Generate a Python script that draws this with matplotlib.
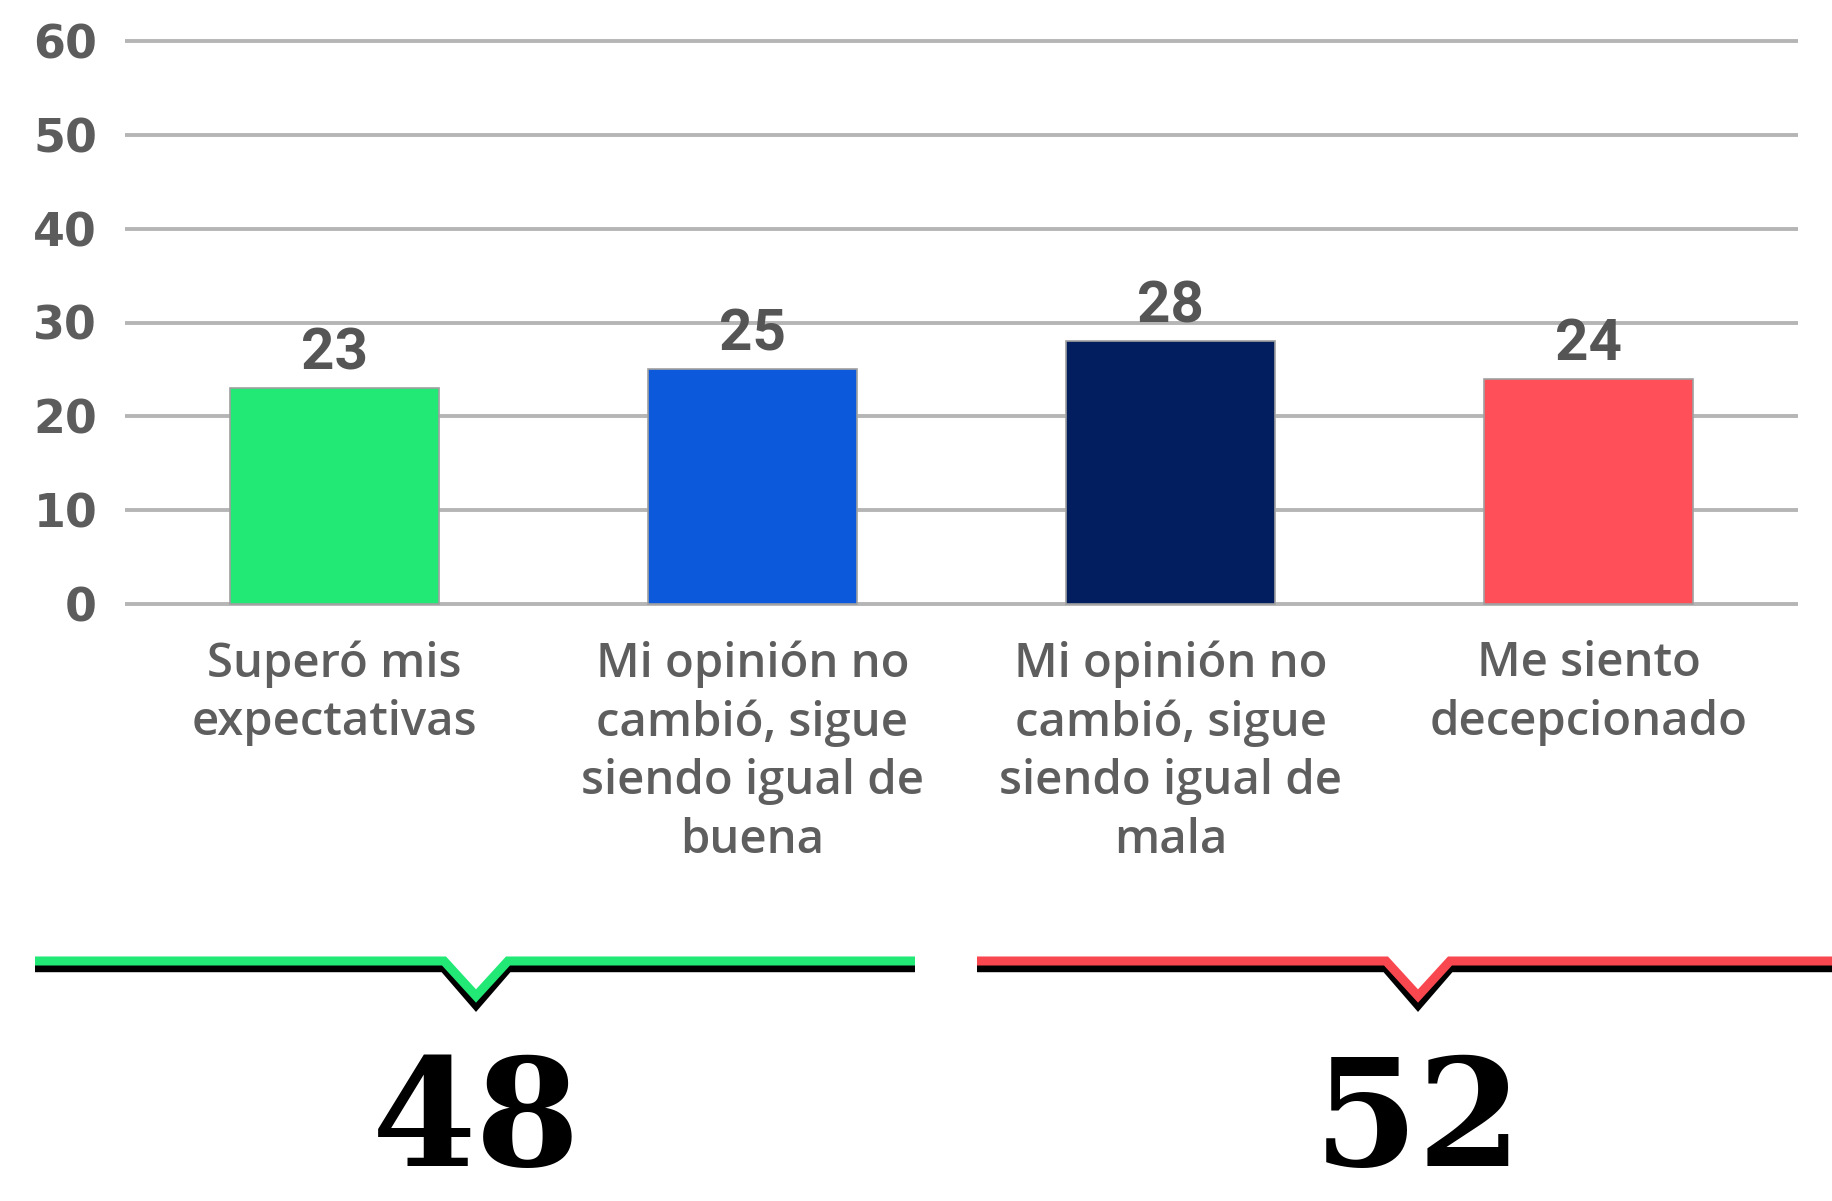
import numpy as np
import matplotlib.pyplot as plt

categories = ["Superó mis\nexpectativas",
              "Mi opinión no\ncambió, sigue\nsiendo igual de\nbuena",
              "Mi opinión no\ncambió, sigue\nsiendo igual de\nmala",
              "Me siento\ndecepcionado"]
values = [23, 25, 28, 24]
bar_colors = ["#22E876", "#0D59DB", "#031E5E", "#FF4F58"]
yticks = [0, 10, 20, 30, 40, 50, 60]

# grupos de la parte inferior (indices de barras que suman)
groups = [[0, 1], [2, 3]]
group_colors = ["#22E876", "#F9474F"]
# posicion en pixeles de cada corchete: inicio, fin, centro de la muesca
group_spans = [(35, 915, 476), (977, 1840, 1418)]

W, H = 1833, 1201
fig = plt.figure(figsize=(W / 100, H / 100), dpi=100)

# eje principal
y0_px, y60_px = 604, 41
ppu = (y0_px - y60_px) / 60
lo, hi = -0.4, 60.4
bot = y0_px - lo * ppu
top = y60_px - (hi - 60) * ppu
ax = fig.add_axes([125 / W, 1 - bot / H, (1798 - 125) / W, (bot - top) / H])
ax.set_ylim(lo, hi)
ax.set_xlim(-0.5, 3.5)

x = np.arange(len(values))
ax.bar(x, values, width=0.5, color=bar_colors, edgecolor="#a0a0a0", linewidth=1.2, zorder=3)
ax.set_yticks(yticks)
ax.yaxis.grid(True, color="#b5b5b5", linewidth=2.8, zorder=0)
ax.set_axisbelow(True)
for s in ax.spines.values():
    s.set_visible(False)
ax.tick_params(axis="y", length=0, pad=20, labelsize=33, labelcolor="#5c5c5c")
for t in ax.get_yticklabels():
    t.set_fontweight("bold")
ax.set_xticks([])

for i, v in enumerate(values):
    ax.annotate(str(v), xy=(i, v), xytext=(0, 5), textcoords="offset points",
                ha="center", va="bottom", fontsize=42, fontweight="bold",
                family="Roboto", color="#555555")
    ax.annotate(categories[i], xy=(i, 0), xytext=(0, -26), textcoords="offset points",
                ha="center", va="top", fontsize=34, fontweight="semibold",
                family="Open Sans", color="#5e5e5e", linespacing=1.32)

# corchetes y totales
ov = fig.add_axes([0, 0, 1, 1])
ov.set_xlim(0, W)
ov.set_ylim(H, 0)
ov.axis("off")
for g, (x0, x1, cx), col in zip(groups, group_spans, group_colors):
    total = sum(values[k] for k in g)
    hw = 32
    ov.plot([x0, cx - hw, cx, cx + hw, x1], [967, 967, 1004, 967, 967],
            color="black", lw=7.5, solid_joinstyle="miter", solid_capstyle="butt")
    ov.plot([x0, cx - hw, cx, cx + hw, x1], [961, 961, 996, 961, 961],
            color=col, lw=6.5, solid_joinstyle="miter", solid_capstyle="butt")
    ov.text(cx, 1166, str(total), ha="center", va="baseline", fontsize=108,
            fontweight="bold", family="DejaVu Serif", color="black")

fig.savefig("out.png", dpi=100)
